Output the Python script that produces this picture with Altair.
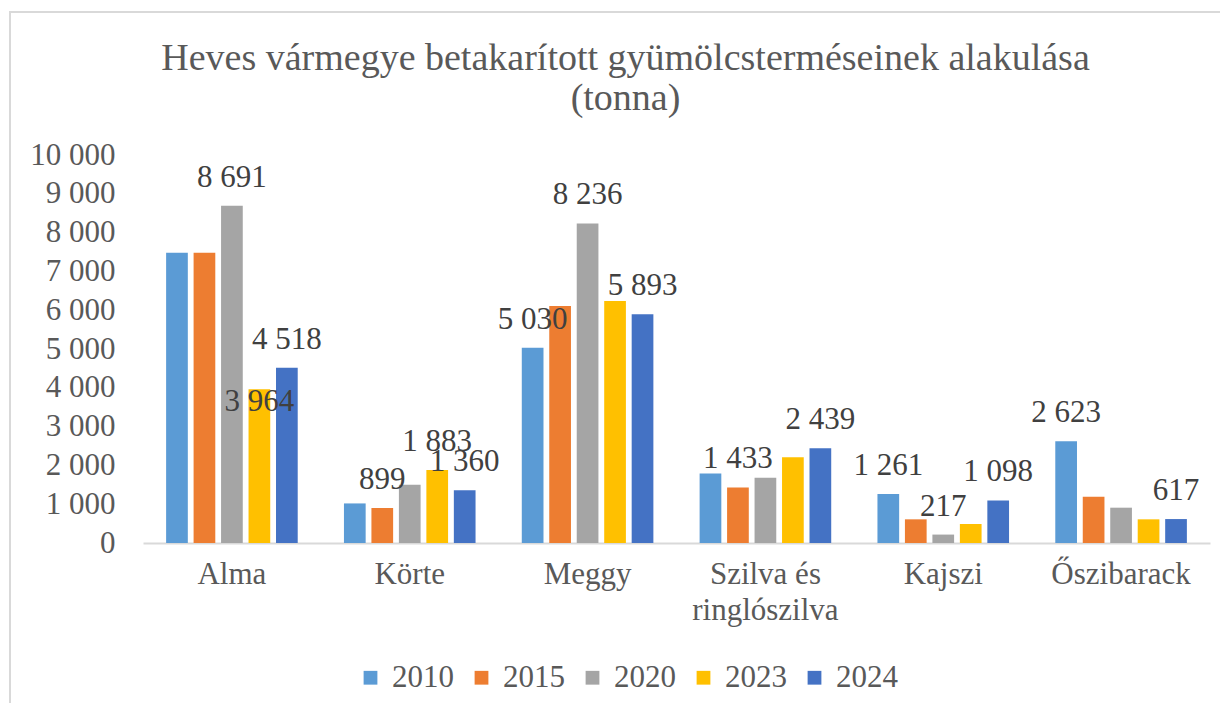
import altair as alt
import pandas as pd

fruits = ["Alma", "Körte", "Meggy", "Szilva és\nringlószilva", "Kajszi", "Őszibarack"]
years = ["2010", "2015", "2020", "2023", "2024"]
v2010 = [7480, 1020, 5030, 1790, 1261, 2623]
v2015 = [7480, 899, 6110, 1433, 610, 1190]
v2020 = [8691, 1500, 8236, 1680, 217, 910]
v2023 = [3964, 1883, 6240, 2210, 490, 610]
v2024 = [4518, 1360, 5893, 2439, 1098, 617]
colors = ["#5B9BD5", "#ED7D31", "#A5A5A5", "#FFC000", "#4472C4"]

# which bars carry a data label (as in the source chart)
labelled = {
    "Alma": ["2020", "2023", "2024"],
    "Körte": ["2015", "2023", "2024"],
    "Meggy": ["2010", "2020", "2024"],
    "Szilva és\nringlószilva": ["2015", "2024"],
    "Kajszi": ["2010", "2020", "2024"],
    "Őszibarack": ["2010", "2024"],
}
inside_labels = [("Alma", "2023")]

series = [v2010, v2015, v2020, v2023, v2024]
rows = []
for yi, yr in enumerate(years):
    for fi, fr in enumerate(fruits):
        val = series[yi][fi]
        rows.append({
            "fruit": fr,
            "year": yr,
            "value": val,
            "show": yr in labelled[fr],
            "inside": (fr, yr) in inside_labels,
        })
df = pd.DataFrame(rows)

W, H = 1067, 388
FONT = "Liberation Serif"

x_axis = alt.Axis(title=None, labelAngle=0, ticks=False,
                  domainColor="#D9D9D9", domainWidth=2,
                  labelFont=FONT, labelFontSize=31, labelColor="#595959",
                  labelPadding=16, labelLineHeight=36, labelLimit=400,
                  labelExpr="split(datum.label, '\\n')")
y_axis = alt.Axis(title=None, values=list(range(0, 10001, 1000)),
                  grid=False, domain=False, ticks=False,
                  labelOverlap=False,
                  labelFont=FONT, labelFontSize=31, labelColor="#595959",
                  labelPadding=28,
                  labelExpr="replace(format(datum.value, ','), ',', ' ')")

x_enc = alt.X("fruit:N", sort=fruits,
              scale=alt.Scale(paddingInner=0.26, paddingOuter=0.13), axis=x_axis)
xoff = alt.XOffset("year:N", sort=years,
                   scale=alt.Scale(paddingInner=0.21, paddingOuter=0))
y_enc = alt.Y("value:Q", scale=alt.Scale(domain=[0, 10000], nice=False), axis=y_axis)

base = alt.Chart(df)

bars = base.mark_bar().encode(
    x=x_enc, xOffset=xoff, y=y_enc,
    color=alt.Color("year:N", sort=years,
                    scale=alt.Scale(domain=years, range=colors),
                    legend=alt.Legend(title=None, orient="none", direction="horizontal",
                                      legendX=212, legendY=507,
                                      symbolType="square", symbolSize=190,
                                      symbolStrokeWidth=0, labelFont=FONT,
                                      labelFontSize=31, labelColor="#595959",
                                      labelOffset=6, columnPadding=12, padding=0)),
)

labels_out = base.transform_filter("datum.show && !datum.inside").transform_calculate(
    lbl="replace(format(datum.value, ','), ',', ' ')"
).mark_text(font=FONT, fontSize=31, color="#404040", baseline="alphabetic", dy=-19).encode(
    x=x_enc, xOffset=xoff, y=y_enc, text="lbl:N",
)

labels_in = base.transform_filter("datum.show && datum.inside").transform_calculate(
    lbl="replace(format(datum.value, ','), ',', ' ')"
).mark_text(font=FONT, fontSize=31, color="#404040", baseline="top", dy=-2).encode(
    x=x_enc, xOffset=xoff, y=y_enc, text="lbl:N",
)

frame_df = pd.DataFrame({"k": [0]})
left_border = alt.Chart(frame_df).mark_rule(color="#D9D9D9", strokeWidth=2).encode(
    x=alt.value(-133), y=alt.value(-143), y2=alt.value(560))
top_border = alt.Chart(frame_df).mark_rule(color="#D9D9D9", strokeWidth=2).encode(
    x=alt.value(-134), x2=alt.value(1090), y=alt.value(-143))

chart = alt.layer(left_border, top_border, bars, labels_out, labels_in).properties(
    width=W, height=H,
    background="white",
    title=alt.TitleParams(
        text=["Heves vármegye betakarított gyümölcsterméseinek alakulása", "(tonna)"],
        font=FONT, fontSize=38, fontWeight="normal", color="#595959",
        lineHeight=40, anchor="middle", offset=-107, dx=-51),
    autosize=alt.AutoSizeParams(type="none"),
    padding={"left": 135, "top": 147, "right": 10, "bottom": 160},
).configure_view(stroke=None).configure_axisY(labelOverlap=False)

chart.save("out.html", embed_options={"renderer": "svg", "actions": False})
